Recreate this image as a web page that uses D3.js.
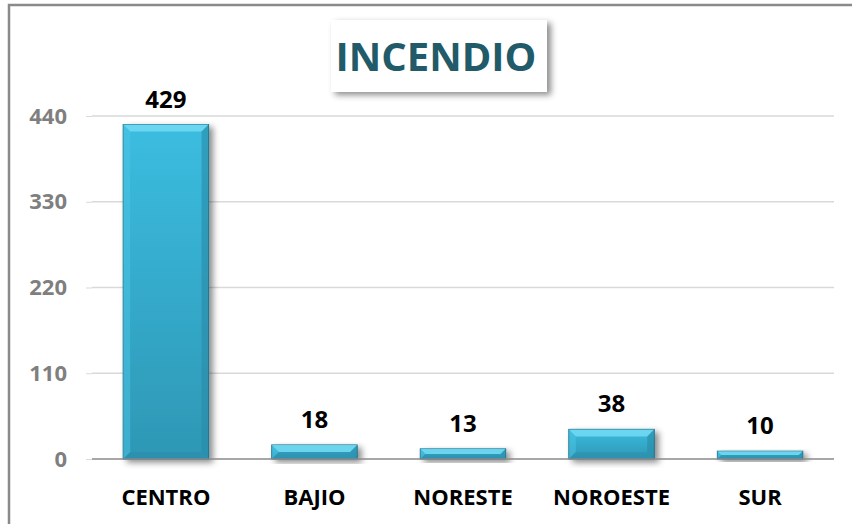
<!DOCTYPE html>
<html>
<head>
<meta charset="utf-8">
<script src="https://d3js.org/d3.v7.min.js"></script>
<style>
  body { margin: 0; background: #fff; }
  text { font-family: "Open Sans", "Liberation Sans", sans-serif; font-weight: bold; }
</style>
</head>
<body>
<div id="chart"></div>
<script>
// data
const regions = ["CENTRO", "BAJIO", "NORESTE", "NOROESTE", "SUR"];
const incendios = [429, 18, 13, 38, 10];
const yTicks = [0, 110, 220, 330, 440];
const title = "INCENDIO";

const width = 852, height = 524;
const margin = {top: 116, right: 18, bottom: 65, left: 92};

const svg = d3.select("#chart").append("svg")
  .attr("width", width)
  .attr("height", height);

const defs = svg.append("defs");

const grad = defs.append("linearGradient")
  .attr("id", "barFill").attr("x1", 0).attr("y1", 0).attr("x2", 0).attr("y2", 1);
grad.append("stop").attr("offset", "0%").attr("stop-color", "#3bbde0");
grad.append("stop").attr("offset", "100%").attr("stop-color", "#2e97b5");

const shadow = defs.append("filter").attr("id", "shadow")
  .attr("x", "-20%").attr("y", "-20%").attr("width", "150%").attr("height", "150%");
shadow.append("feDropShadow").attr("dx", 4).attr("dy", 3).attr("stdDeviation", 3)
  .attr("flood-color", "#000").attr("flood-opacity", 0.45);

// outer frame (only top and left visible)
svg.append("path")
  .attr("d", `M9,${height} V5 H${width}`)
  .attr("fill", "none").attr("stroke", "#8a8a8a").attr("stroke-width", 2.5);

const x = d3.scaleBand()
  .domain(regions)
  .range([margin.left, width - margin.right])
  .paddingInner(0.425).paddingOuter(0.21);

const y = d3.scaleLinear()
  .domain([0, 440])
  .range([height - margin.bottom, margin.top]);

// gridlines
svg.append("g")
  .selectAll("line")
  .data(yTicks.filter(d => d > 0))
  .join("line")
  .attr("x1", margin.left).attr("x2", width - margin.right)
  .attr("y1", d => y(d)).attr("y2", d => y(d))
  .attr("stroke", "#d9d9d9").attr("stroke-width", 1.3);

// y axis labels
const yAxis = svg.append("g")
  .attr("transform", `translate(${margin.left},0)`)
  .call(d3.axisLeft(y).tickValues(yTicks).tickSize(6).tickPadding(19));
yAxis.select(".domain").remove();
yAxis.selectAll(".tick line").attr("stroke", "#d9d9d9");
yAxis.selectAll(".tick text")
  .attr("fill", "#7f7f7f").attr("font-size", 22)
  .attr("font-family", "Open Sans, sans-serif").attr("font-weight", "bold");

// bars
const bars = svg.append("g")
  .selectAll("g")
  .data(regions.map((r, i) => ({region: r, value: incendios[i]})))
  .join("g");

bars.append("rect")
  .attr("x", d => x(d.region))
  .attr("y", d => y(d.value))
  .attr("width", x.bandwidth())
  .attr("height", d => y(0) - y(d.value))
  .attr("fill", "url(#barFill)")
  .attr("stroke", "#1d6a80").attr("stroke-width", 1)
  .attr("filter", "url(#shadow)");

// bevel edges
function bevel(d) {
  const x0 = x(d.region), x1 = x0 + x.bandwidth();
  const y0 = y(d.value), y1 = y(0);
  const b = Math.min(7, (y1 - y0) / 2);
  return {x0, x1, y0, y1, b};
}

bars.append("path")
  .attr("d", d => {
    const {x0, x1, y0, b} = bevel(d);
    return `M${x0},${y0} H${x1} L${x1 - b},${y0 + b} H${x0 + b} Z`;
  })
  .attr("fill", "#74dbf3").attr("opacity", 0.85);

bars.append("path")
  .attr("d", d => {
    const {x1, y0, y1, b} = bevel(d);
    return `M${x1},${y0} V${y1} L${x1 - b},${y1 - b} V${y0 + b} Z`;
  })
  .attr("fill", "#2a8aa6").attr("opacity", 0.6);

bars.append("path")
  .attr("d", d => {
    const {x0, x1, y1, b} = bevel(d);
    return `M${x0},${y1} H${x1} L${x1 - b},${y1 - b} H${x0 + b} Z`;
  })
  .attr("fill", "#2a8aa6").attr("opacity", 0.45);

bars.append("path")
  .attr("d", d => {
    const {x0, y0, y1, b} = bevel(d);
    return `M${x0},${y0} V${y1} L${x0 + b},${y1 - b} V${y0 + b} Z`;
  })
  .attr("fill", "#4cc6e6").attr("opacity", 0.5);

// value labels
bars.append("text")
  .attr("x", d => x(d.region) + x.bandwidth() / 2)
  .attr("y", d => y(d.value) - 17)
  .attr("text-anchor", "middle")
  .attr("font-size", 24)
  .attr("fill", "#000")
  .text(d => d.value);

// baseline
svg.append("line")
  .attr("x1", margin.left).attr("x2", width - margin.right)
  .attr("y1", y(0)).attr("y2", y(0))
  .attr("stroke", "#8a8a8a").attr("stroke-width", 1.5);

// category labels
svg.append("g")
  .selectAll("text")
  .data(regions)
  .join("text")
  .attr("x", d => x(d) + x.bandwidth() / 2)
  .attr("y", height - 19)
  .attr("text-anchor", "middle")
  .attr("font-size", 22)
  .attr("fill", "#000")
  .text(d => d);

// title box
svg.append("rect")
  .attr("x", 331).attr("y", 20).attr("width", 216).attr("height", 72)
  .attr("fill", "#fff")
  .attr("filter", "url(#shadow)");

svg.append("text")
  .attr("x", 436).attr("y", 71)
  .attr("text-anchor", "middle")
  .attr("font-size", 40)
  .attr("fill", "#215a68")
  .text(title);
</script>
</body>
</html>
